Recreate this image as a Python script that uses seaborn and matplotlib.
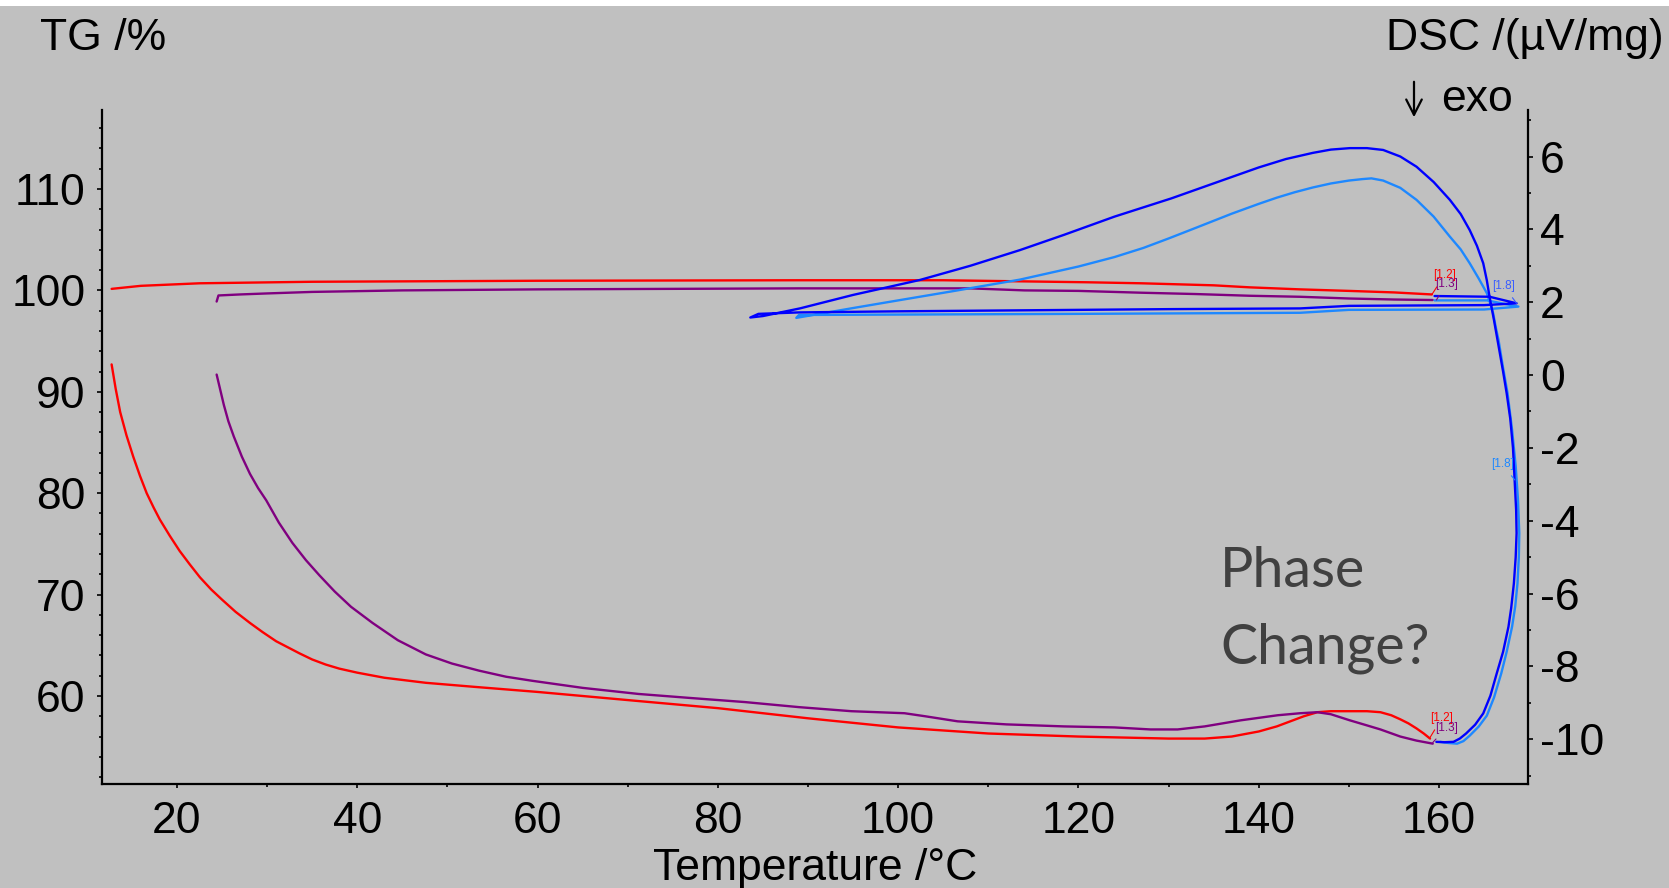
import matplotlib
matplotlib.use("Agg")
import matplotlib.pyplot as plt
from matplotlib.patches import Rectangle, FancyArrowPatch
from matplotlib.ticker import MultipleLocator
import seaborn as sns

# ---------------- data ----------------
# TG traces (left axis, %), temperature in degC
red_upper_t = [12.75, 16, 22.5, 35, 60, 89, 105, 121, 127, 135, 139, 144.6, 150, 155, 159.2]
red_upper_tg = [100.15, 100.45, 100.7, 100.85, 100.95, 101.0, 101.0, 100.8, 100.7, 100.5, 100.3, 100.1, 99.95, 99.8, 99.6]

purple_upper_t = [24.4, 24.6, 27, 30, 35, 45, 60, 89, 108, 114, 120, 127, 133, 139, 144.6, 150, 155, 159.3]
purple_upper_tg = [98.9, 99.5, 99.6, 99.7, 99.85, 100.0, 100.1, 100.2, 100.2, 100.0, 99.95, 99.77, 99.64, 99.47, 99.37, 99.2, 99.1, 99.05]

red_lower_t = [12.75, 13.2, 13.7, 14.4, 15.15, 15.9, 16.64, 17.4, 18.1, 19.2, 20.3, 21.4, 22.55, 23.8, 25, 26.5,
               28.1, 29.5, 31, 32.3, 33.6, 35, 36.5, 38, 40, 43, 47.6, 53, 60, 71.2, 80, 90, 100, 110, 120, 125,
               130, 134, 137, 140, 142, 143.5, 145, 146.5, 148, 150, 152, 153.5, 154.7, 155.7, 156.6, 157.5,
               158.3, 159.0]
red_lower_tg = [92.7, 90.3, 88.0, 85.7, 83.6, 81.7, 80.0, 78.6, 77.4, 75.8, 74.3, 73.0, 71.7, 70.5, 69.5, 68.3,
                67.2, 66.3, 65.4, 64.8, 64.2, 63.6, 63.1, 62.7, 62.3, 61.8, 61.3, 60.9, 60.4, 59.5, 58.8, 57.8,
                56.9, 56.3, 56.0, 55.9, 55.8, 55.8, 56.0, 56.5, 57.0, 57.5, 58.0, 58.4, 58.5, 58.5, 58.5, 58.4,
                58.1, 57.7, 57.3, 56.8, 56.3, 55.8]

purple_lower_t = [24.4, 24.8, 25.2, 25.7, 26.3, 27.2, 28.1, 29, 29.9, 31.3, 32.8, 34.3, 35.8, 37.5, 39.3, 41.7,
                  44.5, 47.6, 50.5, 53.5, 56.5, 59.4, 65, 71.2, 77, 83.0, 89, 94.8, 100.7, 103, 106.6, 112, 118.4,
                  124, 128, 131, 134, 138, 142.1, 144.6, 146.5, 148, 150.1, 152, 153.5, 155.7, 157.5, 159.3]
purple_lower_tg = [91.7, 90.2, 88.7, 87.1, 85.6, 83.6, 81.9, 80.5, 79.3, 77.1, 75.1, 73.4, 71.9, 70.3, 68.8, 67.2,
                   65.5, 64.1, 63.2, 62.5, 61.9, 61.5, 60.8, 60.2, 59.8, 59.4, 58.9, 58.5, 58.3, 58.0, 57.5, 57.2,
                   57.0, 56.9, 56.7, 56.7, 57.0, 57.6, 58.1, 58.3, 58.4, 58.2, 57.6, 57.1, 56.7, 56.0, 55.6, 55.3]

# DSC traces (right axis, uV/mg)
blue_t = [159.5, 165.6, 168.6, 165, 150, 144.6, 130, 120, 100, 89, 84.5, 83.6, 85, 89.1, 95, 102.4, 108, 113.5,
          118.4, 124, 130.3, 136, 140, 143, 146, 148, 150.1, 152, 153.8, 155.7, 157.5, 159.4, 161.2, 162.4,
          163.4, 164.2, 164.9, 165.3, 165.6, 166.1, 166.6, 167.1, 167.5, 167.9, 168.2, 168.4, 168.55, 168.6,
          168.5, 168.3, 168.0, 167.7, 167.1, 166.4, 165.7, 164.9, 164.0, 163.0, 162.3, 161.6, 160.6, 159.7]
blue_dsc = [2.17, 2.15, 1.97, 1.92, 1.90, 1.83, 1.81, 1.79, 1.75, 1.72, 1.68, 1.58, 1.62, 1.83, 2.2, 2.61, 3.0, 3.43,
            3.85, 4.35, 4.85, 5.35, 5.7, 5.93, 6.1, 6.19, 6.23, 6.23, 6.18, 6.0, 5.72, 5.3, 4.81, 4.42,
            3.98, 3.55, 3.07, 2.6, 2.15, 1.5, 0.8, 0.1, -0.5, -1.2, -2.0, -2.97, -3.7, -4.34,
            -5.0, -5.72, -6.4, -6.91, -7.6, -8.19, -8.8, -9.29, -9.6, -9.84, -9.98, -10.07, -10.08, -10.07]

lightblue_t = [159.5, 165.3, 168.8, 165, 150, 144.6, 120, 89, 88.7, 95, 100, 106, 113.5, 120, 124, 127.2, 130, 133,
               137, 140, 142, 144, 146, 148, 150, 151.5, 152.5, 153.8, 155.7, 157.5, 159.4, 161.2, 162.4, 163.4,
               164.4, 165.3, 165.7, 166.0, 166.3, 166.6, 167.1, 167.6, 168.1, 168.5, 168.75, 168.9, 168.85, 168.7,
               168.45, 168.1, 167.5, 166.9, 166.1, 165.3, 164.4, 163.4, 162.7, 162.0, 161.0, 160.1]
lightblue_dsc = [2.05, 2.05, 1.88, 1.80, 1.79, 1.71, 1.68, 1.65, 1.57, 1.84, 2.05, 2.3, 2.62, 2.98, 3.24, 3.49, 3.75,
                 4.04, 4.43, 4.7, 4.87, 5.02, 5.15, 5.26, 5.34, 5.38, 5.4, 5.34, 5.14, 4.81, 4.35, 3.80, 3.45,
                 3.07, 2.65, 2.25, 1.95, 1.70, 1.3, 0.96, 0.2, -0.5, -1.5, -2.5, -3.4, -4.34, -5.0, -5.72,
                 -6.35, -6.91, -7.6, -8.19, -8.85, -9.35, -9.65, -9.9, -10.05, -10.12, -10.1, -10.07]

# segment labels (DSC-axis coordinates): text, text position, point marked, colour
seg_labels = ["[1.2]", "[1.3]", "[1.8]", "[1.8]", "[1.2]", "[1.3]"]
seg_text_t = [160.6, 160.8, 167.2, 167.0, 160.3, 160.8]
seg_text_v = [2.74, 2.50, 2.44, -2.45, -9.42, -9.68]
seg_point_t = [159.2, 159.7, 168.6, 168.4, 159.0, 159.3]
seg_point_v = [2.21, 2.06, 1.97, -2.88, -9.95, -10.09]
seg_colors = ["#ff0000", "#800080", "#3a5dff", "#1e88ff", "#ff0000", "#800080"]

x_ticks = [20, 40, 60, 80, 100, 120, 140, 160]
tg_ticks = [60, 70, 80, 90, 100, 110]
dsc_ticks = [-10, -8, -6, -4, -2, 0, 2, 4, 6]

# ---------------- style ----------------
sns.set_style("ticks")
plt.rcParams["font.family"] = ["Liberation Sans", "DejaVu Sans"]
plt.rcParams["axes.unicode_minus"] = False
for key in ("text.color", "axes.labelcolor", "xtick.color", "ytick.color", "axes.edgecolor"):
    plt.rcParams[key] = "black"

BG = "#c0c0c0"
W, H = 1669, 888
fig = plt.figure(figsize=(W / 100, H / 100), dpi=100, facecolor=BG)
fig.patches.append(Rectangle((0, 1 - 6 / H), 1, 6 / H, transform=fig.transFigure,
                             facecolor="white", edgecolor="none", zorder=0))

left, right, bottom, top = 101.7, 1528.3, 784, 110
ax = fig.add_axes([left / W, (H - bottom) / H, (right - left) / W, (bottom - top) / H])
ax.set_facecolor(BG)
ax2 = ax.twinx()
ax2.set_facecolor("none")

lw = 1.7
sns.lineplot(x=red_upper_t, y=red_upper_tg, sort=False, estimator=None, color="#ff0000", lw=lw, ax=ax)
sns.lineplot(x=purple_upper_t, y=purple_upper_tg, sort=False, estimator=None, color="#800080", lw=lw, ax=ax)
sns.lineplot(x=red_lower_t, y=red_lower_tg, sort=False, estimator=None, color="#ff0000", lw=lw, ax=ax)
sns.lineplot(x=purple_lower_t, y=purple_lower_tg, sort=False, estimator=None, color="#800080", lw=lw, ax=ax)
sns.lineplot(x=lightblue_t, y=lightblue_dsc, sort=False, estimator=None, color="#1e88ff", lw=lw, ax=ax2)
sns.lineplot(x=blue_t, y=blue_dsc, sort=False, estimator=None, color="#0000ff", lw=lw, ax=ax2)

for txt, tx, tv, px, pv, c in zip(seg_labels, seg_text_t, seg_text_v, seg_point_t, seg_point_v, seg_colors):
    ax2.annotate(txt, xy=(px, pv), xytext=(tx, tv), fontsize=8.5, color=c, ha="center", va="center",
                 arrowprops=dict(arrowstyle="-", color=c, lw=0.8, shrinkA=2, shrinkB=0))

ax.set_xlim(11.65, 169.9)
ax.set_ylim(51.32, 117.79)
ax2.set_ylim(-11.227, 7.277)

ax.set_xticks(x_ticks)
ax.set_yticks(tg_ticks)
ax2.set_yticks(dsc_ticks)
ax.xaxis.set_minor_locator(MultipleLocator(10))
ax.yaxis.set_minor_locator(MultipleLocator(2))
ax2.yaxis.set_minor_locator(MultipleLocator(1))

for a in (ax, ax2):
    for s in a.spines.values():
        s.set_linewidth(1.6)
        s.set_color("black")
    a.spines["top"].set_visible(False)
    a.grid(False)
ax.spines["right"].set_visible(False)
ax2.spines["left"].set_visible(False)
ax2.spines["bottom"].set_visible(False)

fs = 32
ax.tick_params(axis="x", which="major", length=3, width=1.2, labelsize=fs, pad=9.5, direction="out")
ax.tick_params(axis="x", which="minor", length=2, width=1.2, direction="out")
ax.tick_params(axis="y", which="major", length=3.6, width=1.2, labelsize=fs, pad=8, direction="out")
ax.tick_params(axis="y", which="minor", length=2.4, width=1.2, direction="out")
ax2.tick_params(axis="y", which="major", length=3.6, width=1.2, labelsize=fs, pad=5, direction="out")
ax2.tick_params(axis="y", which="minor", length=2.4, width=1.2, direction="out")
ax.set_ylabel("")
ax2.set_ylabel("")

ax.set_xlabel("Temperature /°C", fontsize=fs)
ax.xaxis.set_label_coords(0.5, (bottom - 880) / (bottom - top))
ax.xaxis.label.set_va("baseline")

fig.text(40 / W, (H - 50) / H, "TG /%", fontsize=fs, ha="left", va="baseline")
fig.text(1664 / W, (H - 50) / H, "DSC /(µV/mg)", fontsize=fs, ha="right", va="baseline")

# exothermic direction marker: thin arrow followed by "exo"
fig.patches.append(FancyArrowPatch(
    (1414 / W, (H - 79) / H), (1414 / W, (H - 120) / H), transform=fig.transFigure,
    arrowstyle="->,head_length=0.55,head_width=0.28", lw=1.6, color="black", mutation_scale=20))
fig.text(1441 / W, (H - 111) / H, "exo", fontsize=fs, ha="left", va="baseline")

ax.text(135.7, 70.78, "Phase", fontsize=40, family="Lato", color="#404040", ha="left", va="baseline")
ax.text(135.7, 63.25, "Change?", fontsize=40, family="Lato", color="#404040", ha="left", va="baseline")

fig.savefig("out.png", dpi=100, facecolor=BG)
